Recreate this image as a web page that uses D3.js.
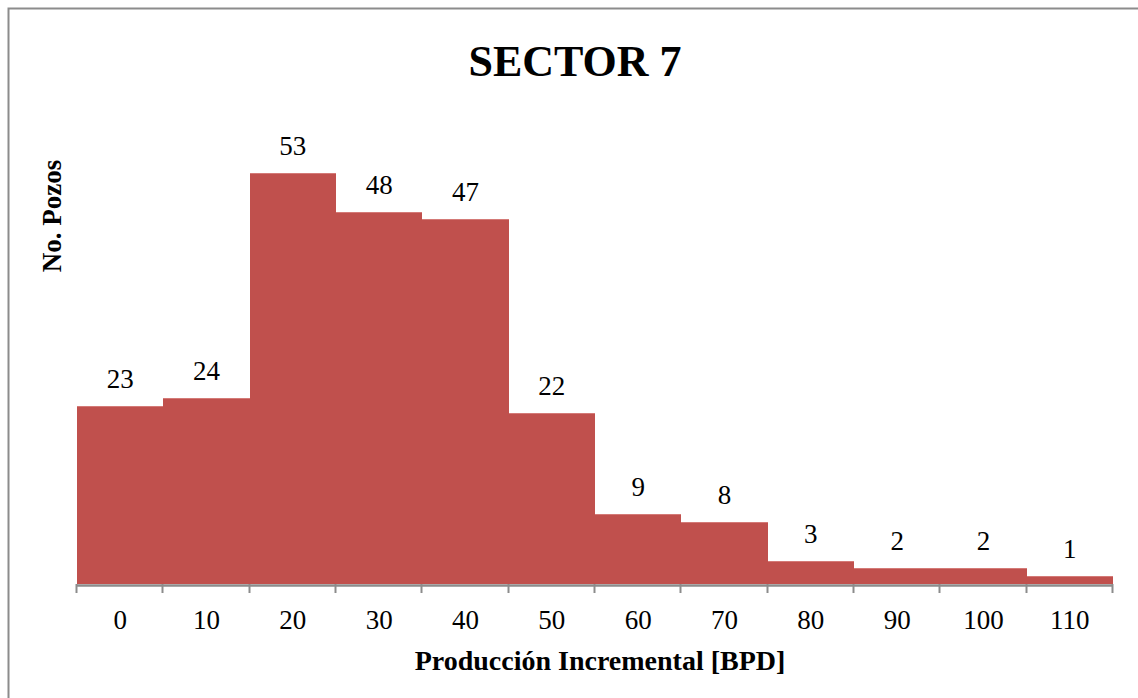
<!DOCTYPE html>
<html>
<head>
<meta charset="utf-8">
<script src="https://cdn.jsdelivr.net/npm/d3@7"></script>
<style>
  html, body { margin: 0; padding: 0; background: #fff; }
  svg { display: block; }
</style>
</head>
<body>
<svg id="chart" width="1138" height="698"></svg>
<script>
const categories = ["0", "10", "20", "30", "40", "50", "60", "70", "80", "90", "100", "110"];
const values = [23, 24, 53, 48, 47, 22, 9, 8, 3, 2, 2, 1];
const title = "SECTOR 7";
const xTitle = "Producción Incremental [BPD]";
const yTitle = "No. Pozos";

const svg = d3.select("#chart");
const W = 1138, H = 698;
const font = "'Liberation Serif', 'Times New Roman', serif";

// outer chart border
svg.append("rect")
  .attr("x", 8.5).attr("y", 8.5)
  .attr("width", W + 20).attr("height", H + 20)
  .attr("fill", "#fff").attr("stroke", "#8c8c8c").attr("stroke-width", 2);

const plot = { left: 77, right: 1113, top: 118.4, bottom: 584 };

const x = d3.scaleBand().domain(categories).range([plot.left, plot.right]).paddingInner(0).paddingOuter(0);
const y = d3.scaleLinear().domain([0, 60]).range([plot.bottom, plot.top]);

const left = c => Math.round(x(c));
const right = c => Math.round(x(c) + x.bandwidth());

// bars
svg.append("g").attr("shape-rendering", "crispEdges")
  .selectAll("rect").data(values).join("rect")
  .attr("x", (d, i) => left(categories[i]))
  .attr("width", (d, i) => right(categories[i]) - left(categories[i]))
  .attr("y", d => Math.round(y(d)))
  .attr("height", d => plot.bottom - Math.round(y(d)))
  .attr("fill", "#C0504D");

// top highlight edges
svg.append("g").attr("shape-rendering", "crispEdges")
  .selectAll("line").data(values).join("line")
  .attr("x1", (d, i) => left(categories[i]))
  .attr("x2", (d, i) => right(categories[i]))
  .attr("y1", d => Math.round(y(d)) + 0.5).attr("y2", d => Math.round(y(d)) + 0.5)
  .attr("stroke", "#d47a77").attr("stroke-width", 1);

// data labels
svg.append("g").selectAll("text").data(values).join("text")
  .attr("x", (d, i) => x(categories[i]) + x.bandwidth() / 2)
  .attr("y", d => y(d) - 18)
  .attr("text-anchor", "middle")
  .attr("font-family", font).attr("font-size", 27).attr("fill", "#000")
  .text(d => d);

// x axis (labels via d3 axis, ticks at band boundaries)
const axis = svg.append("g")
  .attr("transform", `translate(0,${plot.bottom})`)
  .call(d3.axisBottom(x).tickSize(0).tickPadding(0));
axis.select(".domain").remove();
axis.selectAll("text")
  .attr("y", 45).attr("dy", 0)
  .attr("font-family", font).attr("font-size", 27).attr("fill", "#000");

const boundaries = categories.map(c => x(c)).concat([x.range()[1]]);
svg.append("line")
  .attr("x1", plot.left).attr("x2", plot.right)
  .attr("y1", plot.bottom + 1.5).attr("y2", plot.bottom + 1.5)
  .attr("stroke", "#8c8c8c").attr("stroke-width", 2.5);
svg.append("g").selectAll("line").data(boundaries).join("line")
  .attr("x1", d => Math.round(d) - 0.5).attr("x2", d => Math.round(d) - 0.5)
  .attr("y1", plot.bottom).attr("y2", plot.bottom + 9)
  .attr("stroke", "#8c8c8c").attr("stroke-width", 2);

// title
svg.append("text")
  .attr("x", 575).attr("y", 76)
  .attr("text-anchor", "middle")
  .attr("font-family", font).attr("font-weight", "bold").attr("font-size", 44)
  .text(title);

// x title
svg.append("text")
  .attr("x", 600).attr("y", 670)
  .attr("text-anchor", "middle")
  .attr("font-family", font).attr("font-weight", "bold").attr("font-size", 28)
  .text(xTitle);

// y title
svg.append("text")
  .attr("transform", `translate(61,${216}) rotate(-90)`)
  .attr("text-anchor", "middle")
  .attr("font-family", font).attr("font-weight", "bold").attr("font-size", 27)
  .text(yTitle);
</script>
</body>
</html>
